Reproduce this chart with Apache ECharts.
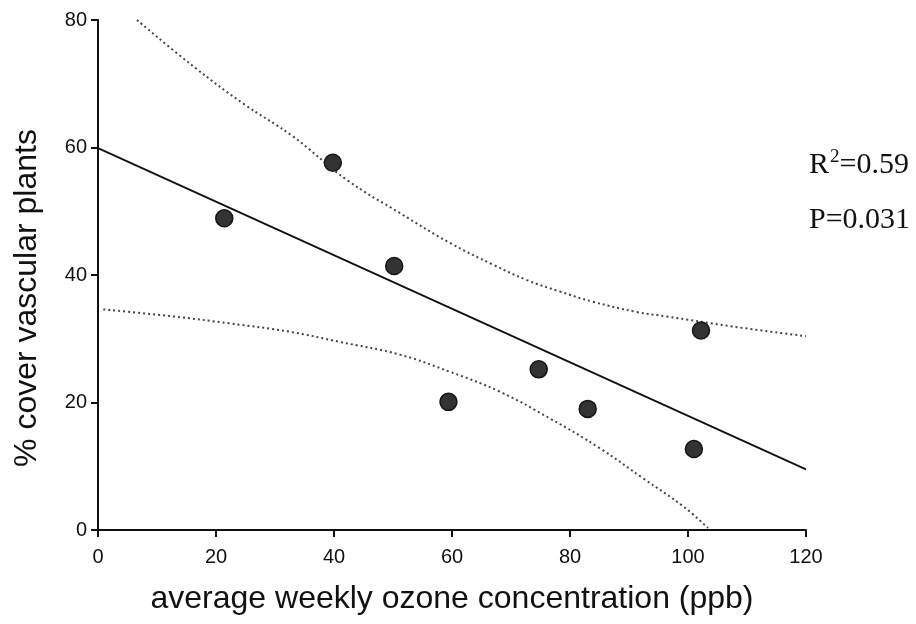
<!DOCTYPE html>
<html>
<head>
<meta charset="utf-8">
<script src="https://cdn.jsdelivr.net/npm/echarts@6/dist/echarts.min.js"></script>
<style>
html,body{margin:0;padding:0;background:#fff;}
#c{width:916px;height:624px;}
</style>
</head>
<body>
<div id="c"></div>
<script>
// Observed data points
var ozone = [21.4, 39.8, 50.2, 59.4, 74.7, 83.0, 101.0, 102.2];
var cover = [48.9, 57.6, 41.4, 20.1, 25.2, 19.0, 12.7, 31.3];
// Regression line endpoints
var fitX = [0, 120];
var fitY = [59.9, 9.5];
// Upper confidence band
var upperX = [6.6, 16.2, 24.6, 33.1, 42.2, 51.2, 59.7, 67.0, 72.7, 78.3, 83.9, 91.3, 96.4, 107.7, 120];
var upperY = [80, 72.7, 66.9, 61.7, 54.9, 49.7, 45.0, 41.6, 39.2, 37.4, 35.8, 34.2, 33.5, 31.9, 30.4];
// Lower confidence band
var lowerX = [0.9, 12.8, 22.4, 32.5, 41.0, 51.2, 59.7, 68.1, 76.6, 85.1, 92.4, 99.2, 103.4];
var lowerY = [34.6, 33.5, 32.4, 31.1, 29.5, 27.5, 24.8, 21.7, 17.5, 12.8, 8.1, 3.7, 0.3];
// Axis ticks
var xTicks = [0, 20, 40, 60, 80, 100, 120];
var yTicks = [0, 20, 40, 60, 80];
var xTitle = 'average weekly ozone concentration (ppb)';
var yTitle = '% cover vascular plants';
var statR2 = '0.59';
var statP = '0.031';

function zip(a, b) { return a.map(function (v, i) { return [v, b[i]]; }); }

var chart = echarts.init(document.getElementById('c'), null, {renderer: 'canvas'});
var axisFont = 'Liberation Sans, Arial, sans-serif';
var serif = 'Liberation Serif, Times New Roman, serif';
var dotted = {color: '#444', width: 2, type: [2, 3]};

chart.setOption({
  animation: false,
  backgroundColor: '#fff',
  grid: {left: 98, right: 110, top: 20, bottom: 94, containLabel: false},
  xAxis: {
    type: 'value', min: xTicks[0], max: xTicks[xTicks.length - 1], interval: 20,
    axisLine: {show: true, onZero: false, lineStyle: {color: '#111', width: 2}},
    axisTick: {show: true, inside: false, length: 7, lineStyle: {color: '#111', width: 2}},
    axisLabel: {color: '#111', fontSize: 20, fontFamily: axisFont, margin: 17},
    splitLine: {show: false},
    name: xTitle, nameLocation: 'middle', nameGap: 53,
    nameTextStyle: {color: '#111', fontSize: 32, fontFamily: axisFont}
  },
  yAxis: {
    type: 'value', min: yTicks[0], max: yTicks[yTicks.length - 1], interval: 20,
    axisLine: {show: true, onZero: false, lineStyle: {color: '#111', width: 2}},
    axisTick: {show: true, inside: false, length: 7, lineStyle: {color: '#111', width: 2}},
    axisLabel: {color: '#111', fontSize: 20, fontFamily: axisFont, margin: 11},
    splitLine: {show: false}
  },
  series: [
    {type: 'line', data: zip(upperX, upperY), smooth: 0.4, symbol: 'none', lineStyle: dotted, z: 2},
    {type: 'line', data: zip(lowerX, lowerY), smooth: 0.4, symbol: 'none', lineStyle: dotted, z: 2},
    {type: 'line', data: zip(fitX, fitY), symbol: 'none', lineStyle: {color: '#111', width: 1.8}, z: 3},
    {type: 'scatter', data: zip(ozone, cover), symbol: 'circle', symbolSize: 17,
     itemStyle: {color: '#333', borderColor: '#151515', borderWidth: 1.5, opacity: 1}, z: 4}
  ],
  graphic: [
    {type: 'text', x: 27, y: 298, rotation: Math.PI / 2, style: {
      text: yTitle, fontSize: 32, fontFamily: axisFont, fill: '#111',
      align: 'center', verticalAlign: 'middle'
    }},
    {type: 'text', left: 809, top: 148, style: {
      text: '{a|R}{s|2}{a|=' + statR2 + '}',
      rich: {
        a: {fontSize: 30, fontFamily: serif, fill: '#111', lineHeight: 32, verticalAlign: 'bottom'},
        s: {fontSize: 19, fontFamily: serif, fill: '#111', lineHeight: 32, verticalAlign: 'top', padding: [0, 0, 0, 1]}
      }
    }},
    {type: 'text', left: 809, top: 205, style: {
      text: 'P=' + statP,
      fontSize: 30, fontFamily: serif, fill: '#111'
    }}
  ]
});
</script>
</body>
</html>
